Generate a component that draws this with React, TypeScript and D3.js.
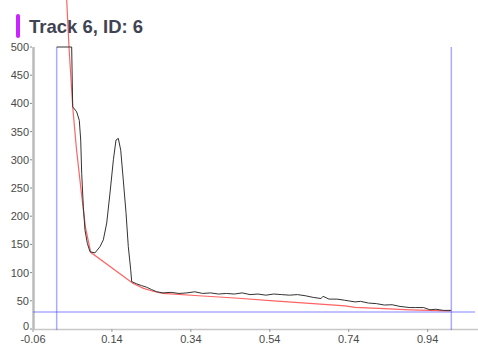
import React, { useRef, useEffect } from 'react';
import * as d3 from 'd3';

const titleText = 'Track 6, ID: 6';

// measured trace (x, value)
const traceX = [0, 0.038, 0.0406, 0.0507, 0.0573, 0.0609, 0.0634, 0.0675, 0.0718, 0.0776, 0.0844, 0.097, 0.1098, 0.1182, 0.1268, 0.1351, 0.1437, 0.1503, 0.1562, 0.1623, 0.1688, 0.1757, 0.1815, 0.1876, 0.1901, 0.2028, 0.215, 0.2281, 0.24, 0.2535, 0.2694, 0.29, 0.31, 0.33, 0.35, 0.37, 0.39, 0.41, 0.43, 0.45, 0.47, 0.49, 0.51, 0.53, 0.55, 0.57, 0.59, 0.61, 0.63, 0.65, 0.67, 0.675, 0.69, 0.71, 0.73, 0.756, 0.77, 0.79, 0.81, 0.83, 0.85, 0.87, 0.895, 0.91, 0.93, 0.946, 0.96, 0.98, 1.0];
const traceY = [500, 500, 394, 385, 370, 335, 276, 217, 175, 152, 137, 135, 146, 158, 188, 241, 300, 335, 338, 317, 264, 206, 146, 105, 84, 80, 77, 74, 70, 66, 64, 65, 63, 64, 66, 63, 64, 62, 63, 62, 64, 61, 62, 60, 62, 61, 60, 61, 59, 56, 54, 58, 53, 53, 51, 48, 49, 46, 45, 42.5, 43, 40, 38, 38, 38, 34, 35, 33, 33];

// fitted curve (x, value)
const fitX = [0.022, 0.0254, 0.0312, 0.0406, 0.05, 0.062, 0.073, 0.0862, 0.193, 0.22, 0.244, 0.2694, 0.36, 0.452, 0.55, 0.65, 0.731, 0.756, 0.83, 0.895, 0.997];
const fitY = [640, 583, 500, 394, 320, 245, 180, 136, 81, 72, 67, 63, 59, 55, 50, 45, 41, 38.5, 36, 34, 32];

const yTicks = [0, 50, 100, 150, 200, 250, 300, 350, 400, 450, 500];
const xTicks = [-0.06, 0.14, 0.34, 0.54, 0.74, 0.94];

const cutLeft = 0;
const cutRight = 1;
const threshold = 30;

export default function App() {
  const svgRef = useRef<SVGSVGElement>(null);

  useEffect(() => {
    if (!svgRef.current) return;
    const W = 478;
    const H = 344;
    const svg = d3.select(svgRef.current);
    svg.selectAll('*').remove();
    svg.attr('width', W).attr('height', H);

    const font = "'Liberation Sans', Arial, sans-serif";
    const x = d3.scaleLinear().domain([-0.06, 1.06]).range([33, 475]);
    const y = d3.scaleLinear().domain([0, 500]).range([329, 47]);

    // title
    svg.append('rect')
      .attr('x', 16).attr('y', 14).attr('width', 4).attr('height', 24)
      .attr('rx', 2).attr('fill', '#cc22ff');
    svg.append('text')
      .attr('x', 29).attr('y', 33)
      .attr('font-family', font).attr('font-size', '18.5px').attr('font-weight', 'bold')
      .attr('fill', '#3f4452')
      .text(titleText);

    // x axis line
    svg.append('line')
      .attr('x1', x(-0.06)).attr('x2', W).attr('y1', 329.5).attr('y2', 329.5)
      .attr('stroke', '#c8c8c8').attr('stroke-width', 1.5);
    xTicks.forEach((t) => {
      svg.append('line')
        .attr('x1', x(t)).attr('x2', x(t)).attr('y1', 329).attr('y2', 332)
        .attr('stroke', '#999');
      svg.append('text')
        .attr('x', x(t)).attr('y', 343)
        .attr('text-anchor', 'middle')
        .attr('font-family', font).attr('font-size', '11px')
        .attr('fill', '#4a4a4a')
        .text(t.toFixed(2));
    });

    // y axis line
    svg.append('line')
      .attr('x1', 33.5).attr('x2', 33.5).attr('y1', y(500)).attr('y2', 330)
      .attr('stroke', '#bbbbbb').attr('stroke-width', 2.5);
    yTicks.forEach((t) => {
      svg.append('line')
        .attr('x1', 30).attr('x2', 32).attr('y1', y(t)).attr('y2', y(t))
        .attr('stroke', '#888');
      svg.append('text')
        .attr('x', 29).attr('y', y(t) + (t === 0 ? 1 : 4))
        .attr('text-anchor', 'end')
        .attr('font-family', font).attr('font-size', '11px')
        .attr('fill', '#4a4a4a')
        .text(String(t));
    });

    // markers
    const blue = 'rgba(70,70,255,0.45)';
    [cutLeft, cutRight].forEach((c) => {
      svg.append('line')
        .attr('x1', x(c)).attr('x2', x(c)).attr('y1', y(500)).attr('y2', 330)
        .attr('stroke', blue).attr('stroke-width', 1.5);
    });
    svg.append('line')
      .attr('x1', x(-0.06)).attr('x2', x(1.06)).attr('y1', y(threshold)).attr('y2', y(threshold))
      .attr('stroke', blue).attr('stroke-width', 1.5);

    // fit curve
    const fitPts: [number, number][] = fitX.map((v, i) => [v, fitY[i]]);
    svg.append('path')
      .datum(fitPts)
      .attr('fill', 'none')
      .attr('stroke', 'rgba(255,60,60,0.8)')
      .attr('stroke-width', 1.2)
      .attr('d', d3.line<[number, number]>().x((d) => x(d[0])).y((d) => y(d[1])));

    // trace
    const tracePts: [number, number][] = traceX.map((v, i) => [v, traceY[i]]);
    svg.append('path')
      .datum(tracePts)
      .attr('fill', 'none')
      .attr('stroke', '#333')
      .attr('stroke-width', 1)
      .attr('d', d3.line<[number, number]>().x((d) => x(d[0])).y((d) => y(d[1])));
  }, []);

  return (
    <div style={{ position: 'absolute', left: 0, top: 0, width: 478, height: 344, background: '#fff' }}>
      <svg ref={svgRef} style={{ display: 'block' }} />
    </div>
  );
}
